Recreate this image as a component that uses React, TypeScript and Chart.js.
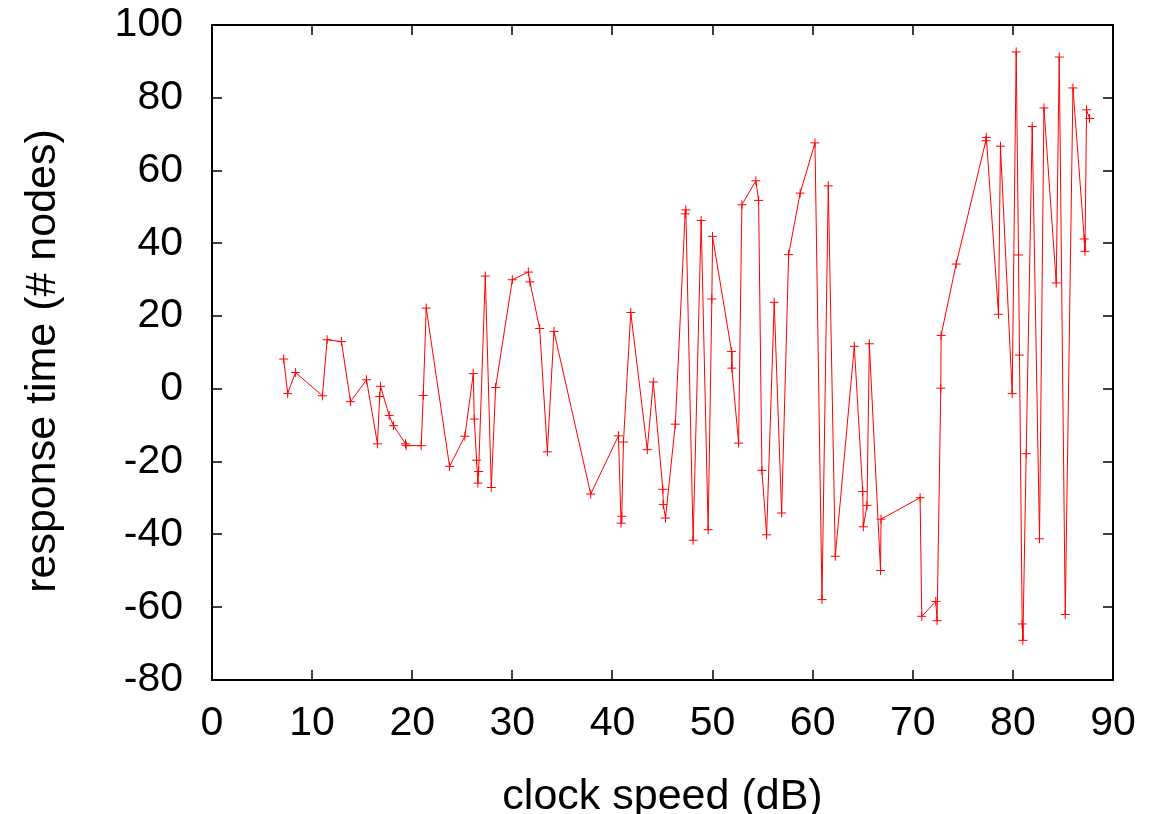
import React, { useEffect, useRef } from "react";
import { Chart, registerables } from "chart.js";

Chart.register(...registerables);

// clock speed (dB)
const clockSpeed = [
  7.16, 7.56, 8.33, 11.03, 11.5, 12.93, 13.83, 15.43, 16.53, 16.75,
  16.83, 17.7, 18.13, 19.33, 19.4, 20.9, 21.1, 21.4, 23.73, 25.26,
  26.1, 26.2, 26.43, 26.56, 26.63, 27.3, 27.9, 28.33, 30.0, 31.6,
  31.76, 32.73, 33.5, 34.16, 37.83, 40.6, 40.86, 40.93, 41.1, 41.83,
  43.48, 44.08, 45.03, 45.08, 45.3, 46.28, 47.26, 47.33, 48.06, 48.86,
  49.56, 49.93, 50.0, 51.9, 51.93, 52.6, 52.93, 54.33, 54.6, 54.93,
  55.4, 56.16, 56.9, 57.6, 58.75, 60.23, 60.93, 61.56, 62.26, 64.16,
  65.0, 65.06, 65.43, 65.66, 66.78, 66.83, 70.73, 70.9, 72.3, 72.43,
  72.8, 72.83, 74.33, 77.3, 77.35, 78.56, 78.76, 79.93, 80.33, 80.56,
  80.66, 80.93, 81.0, 81.33, 81.93, 82.66, 83.1, 84.33, 84.63, 85.23,
  86.0, 87.13, 87.2, 87.36, 87.66,
];

// response time (# nodes)
const responseTime = [
  8.2, -1.3, 4.5, -1.9, 13.5, 13.0, -3.5, 2.5, -15.1, -2.1,
  0.7, -7.3, -10.1, -15.1, -15.6, -15.6, -1.8, 22.2, -21.3, -13.0,
  4.2, -8.3, -19.6, -25.9, -22.7, 31.0, -27.1, 0.4, 30.0, 32.1,
  29.4, 16.6, -17.3, 15.8, -28.9, -12.9, -36.9, -35.0, -14.6, 21.0,
  -16.7, 1.9, -27.6, -31.8, -35.5, -9.7, 48.1, 49.2, -41.6, 46.3,
  -38.7, 24.7, 41.9, 10.3, 5.7, -14.9, 50.6, 57.2, 51.8, -22.4,
  -40.1, 23.8, -34.1, 36.9, 53.8, 67.6, -57.9, 55.8, -46.0, 11.7,
  -28.2, -37.9, -32.0, 12.4, -49.9, -35.8, -29.9, -62.5, -58.4, -63.7,
  0.2, 14.7, 34.3, 68.2, 69.1, 20.5, 66.7, -1.3, 92.6, 36.8,
  9.3, -64.6, -69.1, -17.8, 72.1, -41.2, 77.2, 29.1, 91.2, -62.0,
  82.7, 41.2, 37.8, 76.7, 74.3,
];

const xTickValues = [0, 10, 20, 30, 40, 50, 60, 70, 80, 90];
const yTickValues = [-80, -60, -40, -20, 0, 20, 40, 60, 80, 100];

const xTitle = "clock speed (dB)";
const yTitle = "response time (# nodes)";

const FONT = "'Liberation Sans', Arial, Helvetica, sans-serif";

const framePlugin = {
  id: "gnuplotFrame",
  afterDraw(chart: any) {
    const { ctx, chartArea: a, scales } = chart;
    ctx.save();
    ctx.strokeStyle = "#000";
    ctx.lineWidth = 1.5;
    const t = 10;
    ctx.beginPath();
    for (const v of xTickValues) {
      const px = Math.round(scales.x.getPixelForValue(v));
      ctx.moveTo(px, a.bottom);
      ctx.lineTo(px, a.bottom - t);
      ctx.moveTo(px, a.top);
      ctx.lineTo(px, a.top + t);
    }
    for (const v of yTickValues) {
      const py = Math.round(scales.y.getPixelForValue(v));
      ctx.moveTo(a.left, py);
      ctx.lineTo(a.left + t, py);
      ctx.moveTo(a.right, py);
      ctx.lineTo(a.right - t, py);
    }
    ctx.stroke();
    ctx.lineWidth = 2;
    ctx.strokeRect(a.left, a.top, a.right - a.left, a.bottom - a.top);

    ctx.fillStyle = "#000";
    ctx.font = `43px ${FONT}`;
    ctx.textAlign = "center";
    ctx.textBaseline = "alphabetic";
    ctx.fillText(xTitle, (a.left + a.right) / 2, 809);
    ctx.translate(55, 361);
    ctx.rotate(-Math.PI / 2);
    ctx.fillText(yTitle, 0, 0);
    ctx.restore();
  },
};

export default function App() {
  const canvasRef = useRef<HTMLCanvasElement | null>(null);

  useEffect(() => {
    const canvas = canvasRef.current;
    if (!canvas) return;
    const points = clockSpeed.map((x, i) => ({ x, y: responseTime[i] }));
    const chart = new Chart(canvas, {
      type: "line",
      data: {
        datasets: [
          {
            data: points,
            borderColor: "#ff0000",
            backgroundColor: "#ff0000",
            borderWidth: 1,
            pointStyle: "cross",
            pointRadius: 4.5,
            pointBorderWidth: 1,
            pointBorderColor: "#ff0000",
            fill: false,
            tension: 0,
          },
        ],
      },
      options: {
        animation: false,
        responsive: false,
        devicePixelRatio: 1,
        layout: { padding: { top: 25, right: 36, left: 0, bottom: 0 } },
        plugins: {
          legend: { display: false },
          tooltip: { enabled: false },
          title: { display: false },
        },
        scales: {
          x: {
            type: "linear",
            min: 0,
            max: 90,
            afterBuildTicks: (s: any) => {
              s.ticks = xTickValues.map((v) => ({ value: v }));
            },
            afterFit: (s: any) => {
              s.height = 134;
              s.paddingLeft = 0;
              s.paddingRight = 0;
              s.paddingTop = 0;
              s.paddingBottom = 0;
            },
            grid: { display: false, drawTicks: false },
            border: { display: false },
            ticks: {
              color: "#000",
              padding: 19,
              maxRotation: 0,
              autoSkip: false,
              font: { family: FONT, size: 41 },
            },
          },
          y: {
            type: "linear",
            min: -80,
            max: 100,
            afterBuildTicks: (s: any) => {
              s.ticks = yTickValues.map((v) => ({ value: v }));
            },
            afterFit: (s: any) => {
              s.width = 212;
              s.paddingLeft = 0;
              s.paddingRight = 0;
              s.paddingTop = 0;
              s.paddingBottom = 0;
            },
            grid: { display: false, drawTicks: false },
            border: { display: false },
            ticks: {
              color: "#000",
              padding: 29,
              autoSkip: false,
              font: { family: FONT, size: 41 },
            },
          },
        },
      },
      plugins: [framePlugin],
    });
    return () => chart.destroy();
  }, []);

  return (
    <div style={{ position: "absolute", left: 0, top: 0, width: 1149, height: 814, background: "#fff" }}>
      <canvas ref={canvasRef} width={1149} height={814} style={{ display: "block" }} />
    </div>
  );
}
